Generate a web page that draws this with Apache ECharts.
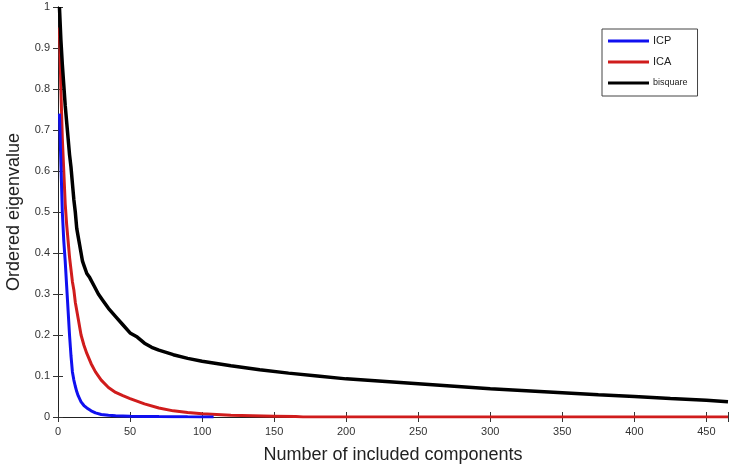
<!DOCTYPE html>
<html>
<head>
<meta charset="utf-8">
<script src="https://cdn.jsdelivr.net/npm/echarts@6/dist/echarts.min.js"></script>
<style>html,body{margin:0;padding:0;background:#fff}#c{width:733px;height:470px}</style>
</head>
<body>
<div id="c"></div>
<script>
// ---- data ----
const xTicks = [0, 50, 100, 150, 200, 250, 300, 350, 400, 450];
const yTicks = [0, 0.1, 0.2, 0.3, 0.4, 0.5, 0.6, 0.7, 0.8, 0.9, 1];

const icpX = [1,2,3,4,5,6,7,8,9,10,11,12,13,14,16,18,20,23,26,30,35,40,50,60,70,80,90,100,108];
const icpY = [0.74,0.62,0.5,0.43,0.38,0.32,0.26,0.2,0.15,0.11,0.09,0.075,0.062,0.052,0.037,0.028,0.022,0.015,0.01,0.006,0.004,0.003,0.002,0.0015,0.001,0.0008,0.0005,0.0003,0];

const icaX = [1,2,3,4,5,6,7,8,9,10,11,12,14,16,18,20,23,26,30,35,40,45,50,60,70,80,90,100,110,120,135,150,165,170,465];
const icaY = [0.95,0.8,0.68,0.6,0.52,0.47,0.43,0.39,0.36,0.33,0.31,0.28,0.24,0.2,0.175,0.155,0.13,0.11,0.09,0.072,0.06,0.052,0.045,0.032,0.022,0.015,0.011,0.008,0.006,0.004,0.003,0.002,0.001,0,0];

const bisX = [1,2,3,4,5,6,7,8,9,10,11,12,13,14,15,16,17,18,20,22,25,28,31,35,40,45,50,55,60,65,70,80,90,100,120,140,160,180,200,225,250,275,300,325,350,375,400,425,450,465];
const bisY = [1.0,0.92,0.86,0.81,0.76,0.72,0.68,0.64,0.61,0.57,0.53,0.5,0.46,0.44,0.42,0.40,0.38,0.37,0.35,0.34,0.32,0.30,0.285,0.265,0.245,0.225,0.205,0.195,0.18,0.17,0.163,0.152,0.143,0.136,0.125,0.115,0.107,0.1,0.093,0.087,0.081,0.075,0.069,0.064,0.059,0.054,0.05,0.045,0.041,0.037];

const seriesNames = ['ICP', 'ICA', 'bisquare'];
const seriesColors = ['#1010f0', '#d01c1c', '#000000'];

function pairs(xs, ys) { return xs.map((x, i) => [x, ys[i]]); }

const chart = echarts.init(document.getElementById('c'), null, {renderer: 'canvas'});
const font = 'Liberation Sans, Arial, sans-serif';
const axisCommon = {
  axisLine: {lineStyle: {color: '#222', width: 1}},
  axisTick: {inside: true, length: 5, lineStyle: {color: '#333'}},
  splitLine: {show: false}
};
chart.setOption({
  animation: false,
  backgroundColor: '#fff',
  grid: {left: 58, right: 5, top: 7, bottom: 53, containLabel: false, outerBoundsMode: 'none'},
  legend: {
    orient: 'vertical',
    left: 602, top: 29,
    data: [
      {name: 'ICP'},
      {name: 'ICA'},
      {name: 'bisquare', textStyle: {fontSize: 9}}
    ],
    icon: 'rect',
    itemWidth: 41, itemHeight: 3,
    itemGap: 7,
    padding: [5, 10, 6, 6],
    borderColor: '#444', borderWidth: 1,
    textStyle: {fontFamily: font, fontSize: 11, color: '#222', lineHeight: 14, padding: [0, 0, 0, -1]}
  },
  xAxis: [
    Object.assign({
      type: 'value', min: 0, max: 465, interval: 50, position: 'bottom',
      name: 'Number of included components', nameLocation: 'middle', nameGap: 29,
      nameTextStyle: {fontFamily: font, fontSize: 18, color: '#222'},
      axisLabel: {
        fontFamily: font, fontSize: 11, color: '#333', margin: 9,
        formatter: v => xTicks.includes(v) ? String(v) : ''
      }
    }, axisCommon),
    Object.assign({
      type: 'value', min: 0, max: 465, interval: 50, position: 'top',
      axisLabel: {show: false}
    }, axisCommon)
  ],
  yAxis: [
    Object.assign({
      type: 'value', min: 0, max: 1, interval: 0.1, position: 'left',
      name: 'Ordered eigenvalue', nameLocation: 'middle', nameGap: 35,
      nameTextStyle: {fontFamily: font, fontSize: 18, color: '#222'},
      axisLabel: {
        fontFamily: font, fontSize: 11, color: '#333', margin: 8,
        formatter: v => { const t = yTicks.find(k => Math.abs(k - v) < 1e-9); return t === undefined ? '' : String(t); }
      }
    }, axisCommon),
    Object.assign({
      type: 'value', min: 0, max: 1, interval: 0.1, position: 'right',
      axisLabel: {show: false}
    }, axisCommon)
  ],
  series: [
    {name: 'ICA', type: 'line', data: pairs(icaX, icaY), showSymbol: false, symbol: 'none',
     lineStyle: {color: seriesColors[1], width: 3}, itemStyle: {color: seriesColors[1]}, z: 2},
    {name: 'ICP', type: 'line', data: pairs(icpX, icpY), showSymbol: false, symbol: 'none',
     lineStyle: {color: seriesColors[0], width: 3}, itemStyle: {color: seriesColors[0]}, z: 3},
    {name: 'bisquare', type: 'line', data: pairs(bisX, bisY), showSymbol: false, symbol: 'none',
     lineStyle: {color: seriesColors[2], width: 3.5}, itemStyle: {color: seriesColors[2]}, z: 4}
  ]
});
</script>
</body>
</html>
